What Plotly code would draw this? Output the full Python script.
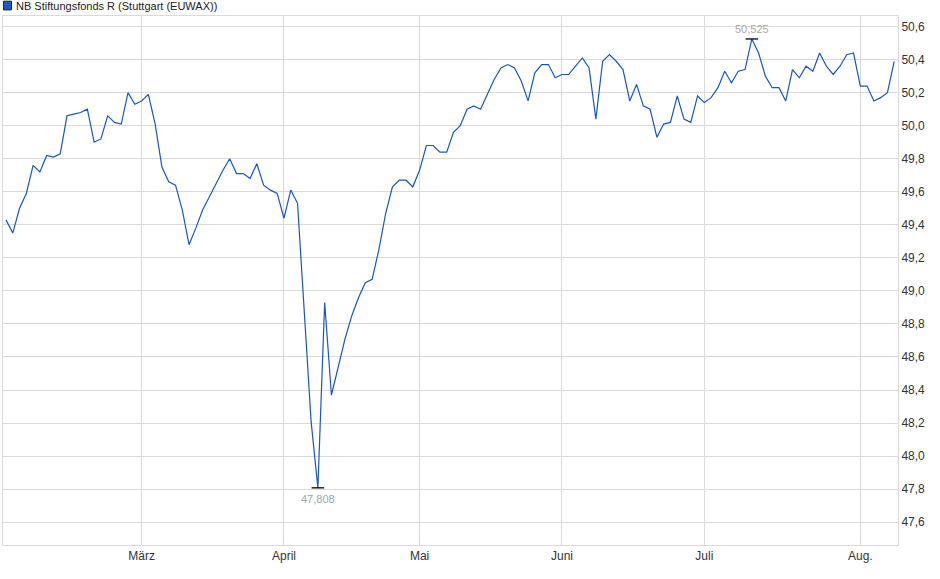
import pandas as pd
import plotly.graph_objects as go

# Fund prices, trading days (EUWAX) 03.02.2025 - 08.08.2025
feb = [49.43, 49.35, 49.50, 49.59, 49.76, 49.72, 49.82, 49.81, 49.83, 50.06,
       50.07, 50.08, 50.10, 49.90, 49.92, 50.06, 50.02, 50.01, 50.20, 50.13]
mar = [50.15, 50.19, 50.01, 49.75, 49.66, 49.64, 49.49, 49.28, 49.38, 49.49,
       49.57, 49.65, 49.73, 49.80, 49.71, 49.71, 49.68, 49.77, 49.64, 49.61,
       49.59]
apr = [49.44, 49.61, 49.53, 48.90, 48.21, 47.808, 48.93, 48.37, 48.55, 48.71,
       48.85, 48.96, 49.05, 49.07, 49.25, 49.47, 49.63, 49.67, 49.67, 49.63]
may = [49.73, 49.88, 49.88, 49.84, 49.84, 49.96, 50.00, 50.10, 50.12, 50.10,
       50.19, 50.28, 50.35, 50.37, 50.35, 50.27, 50.15, 50.32, 50.37, 50.37,
       50.29]
jun = [50.31, 50.31, 50.36, 50.41, 50.35, 50.04, 50.39, 50.43, 50.39, 50.34,
       50.15, 50.25, 50.12, 50.10, 49.93, 50.01, 50.02, 50.18, 50.04, 50.02,
       50.18]
jul = [50.14, 50.17, 50.23, 50.33, 50.26, 50.33, 50.34, 50.525, 50.44, 50.30,
       50.23, 50.23, 50.15, 50.34, 50.29, 50.36, 50.33, 50.44, 50.36, 50.31,
       50.36, 50.43, 50.44]
aug = [50.24, 50.24, 50.15, 50.17, 50.20, 50.39]

prices = feb + mar + apr + may + jun + jul + aug

# trading calendar (no weekends, exchange holidays)
holidays = ['2025-04-18', '2025-04-21', '2025-05-01']
days = pd.bdate_range('2025-02-03', '2025-08-08')
days = [d.strftime('%Y-%m-%d') for d in days if d.strftime('%Y-%m-%d') not in holidays]

month_ticks = ['2025-03-03', '2025-04-01', '2025-05-02', '2025-06-02', '2025-07-01', '2025-08-01']
month_labels = ['März', 'April', 'Mai', 'Juni', 'Juli', 'Aug.']
y_ticks = [47.6, 47.8, 48.0, 48.2, 48.4, 48.6, 48.8, 49.0, 49.2, 49.4, 49.6, 49.8, 50.0, 50.2, 50.4, 50.6]

name = 'NB Stiftungsfonds R (Stuttgart (EUWAX))'
line_col = '#1a56c0'
grid_col = '#dadada'

i_min = prices.index(min(prices))
i_max = prices.index(max(prices))

fig = go.Figure()
fig.add_trace(go.Scatter(x=days, y=prices, mode='lines',
                         line=dict(color=line_col, width=1.2),
                         name=name, hoverinfo='x+y'))
# small black ticks at high / low
fig.add_trace(go.Scatter(x=[days[i_min], days[i_max]], y=[prices[i_min], prices[i_max]],
                         mode='markers',
                         marker=dict(symbol='line-ew', size=9, line=dict(color='black', width=1.3)),
                         hoverinfo='skip'))

fig.add_annotation(x=days[i_min], y=prices[i_min], text='47,808', showarrow=False,
                   yshift=-11, font=dict(size=11, color='#9aa6b8'))
fig.add_annotation(x=days[i_max], y=prices[i_max], text='50,525', showarrow=False,
                   yshift=10, font=dict(size=11, color='#b0aa9e'))

# legend box drawn by hand (top left)
fig.add_shape(type='rect', xref='paper', yref='paper', x0=0.0005, x1=0.0095, y0=1.0115, y1=1.028,
              fillcolor='#1f58bf', line=dict(color='#222', width=1))
fig.add_annotation(xref='paper', yref='paper', x=0.0125, y=1.0195, xanchor='left', yanchor='middle',
                   text=name, showarrow=False, font=dict(size=11, color='#222'))

fig.update_layout(
    width=940, height=579,
    margin=dict(l=3, r=42, t=16, b=34),
    paper_bgcolor='white', plot_bgcolor='white',
    font=dict(family='Liberation Sans, Arial, sans-serif', size=12, color='#333'),
    separators=',.',
    showlegend=False,
    xaxis=dict(type='category', range=[-0.44, len(days) - 0.44],
               tickvals=month_ticks, ticktext=month_labels, ticks='',
               showgrid=True, gridcolor=grid_col, gridwidth=1,
               showline=True, linecolor=grid_col, mirror=True, zeroline=False,
               tickfont=dict(size=12, color='#333')),
    yaxis=dict(side='right', range=[47.462, 50.664], tickvals=y_ticks,
               tickformat='.1f', ticks='',
               showgrid=True, gridcolor=grid_col, gridwidth=1,
               showline=True, linecolor=grid_col, mirror=True, zeroline=False,
               tickfont=dict(size=12, color='#333')),
)

# page margin off so the chart sits at the window corner
fig.write_html('out.html', config={'displayModeBar': False},
               post_script="document.body.style.margin='0';")
